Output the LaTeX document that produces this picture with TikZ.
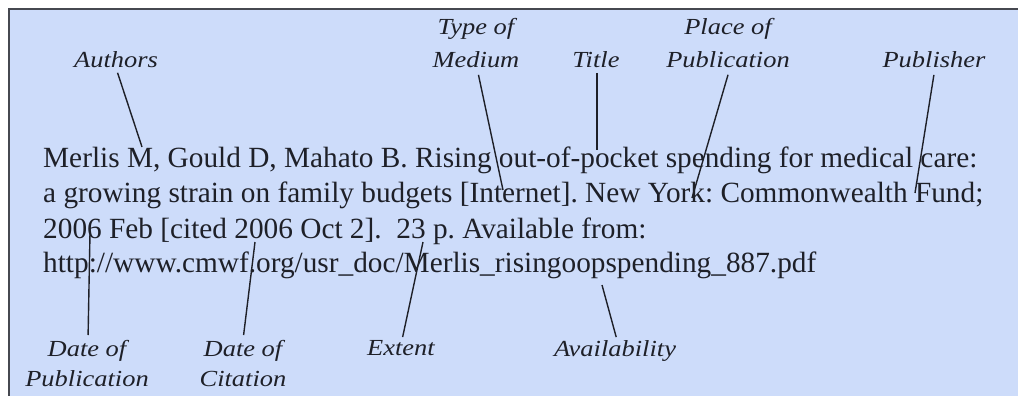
\documentclass[tikz,border=0pt]{standalone}
\usepackage{fontspec}
\usepackage{graphicx}
\setmainfont{Liberation Serif}
\newfontfamily\lblfont{Liberation Serif}[FakeStretch=1.15]
\definecolor{boxfill}{RGB}{205,220,250}
\definecolor{boxline}{RGB}{70,72,80}
\definecolor{ink}{RGB}{30,32,40}
\tikzset{
  lbl/.style={inner sep=0pt, align=center, text=ink,
    font=\lblfont\itshape\fontsize{23}{33}\selectfont},
  lblb/.style={lbl, font=\lblfont\itshape\fontsize{23}{30}\selectfont},
  body/.style={inner sep=0pt, anchor=base west, text=ink,
    font=\fontsize{29.3}{35}\selectfont\frenchspacing},
  conn/.style={draw=ink, line width=1.4pt}
}
\begin{document}
\begin{tikzpicture}[x=1pt,y=-1pt]
\useasboundingbox (0,0) rectangle (1018,396);
\fill[white] (0,0) rectangle (1018,396);
\filldraw[fill=boxfill, draw=boxline, line width=2.5pt] (9,9) rectangle (1040,420);
% main text
\node[body] (l1) at (43,167) {Merlis M, Gould D, Mahato B. Rising out-of-pocket spending for medical care:};
\node[body] (l2) at (43,202) {a growing strain on family budgets [Internet]. New York: Commonwealth Fund;};
\node[body] (l3) at (43,238) {2006 Feb [cited 2006 Oct 2].\ \ 23 p. Available from:};
\node[body] (l4) at (43,272) {http://www.cmwf.org/usr\_doc/Merlis\_risingoopspending\_887.pdf};
% top labels
\node[lbl, anchor=south] (authors) at (116,68) {Authors};
\node[lbl, anchor=south] (medium) at (476,68) {Type of\\Medium};
\node[lbl, anchor=south] (title) at (596,68) {Title};
\node[lbl, anchor=south] (place) at (728,68) {Place of\\Publication};
\node[lbl, anchor=south] (publisher) at (934,68) {Publisher};
% bottom labels
\node[lblb, anchor=north] (datepub) at (87,340) {Date of\\Publication};
\node[lblb, anchor=north] (datecit) at (243,340) {Date of\\Citation};
\node[lbl, anchor=north] (extent) at (401,340) {Extent};
\node[lbl, anchor=north] (avail) at (615,340) {Availability};
% points in the reference text
\coordinate (authorsE) at (142,147);
\coordinate (mediumE) at (503,190);
\coordinate (titleE) at (597,150);
\coordinate (placeE) at (692,198);
\coordinate (publisherE) at (915,193);
\coordinate (datepubS) at (90,233);
\coordinate (datecitS) at (255,242);
\coordinate (extentS) at (423,242);
\coordinate (availS) at (602,285);
% connectors
\draw[conn, shorten <=5pt] (authors.south) -- (authorsE);
\draw[conn, shorten <=7pt] ([xshift=1pt]medium.south) -- (mediumE);
\draw[conn, shorten <=5pt] ([xshift=1pt]title.south) -- (titleE);
\draw[conn, shorten <=7pt] ([xshift=2pt]place.south) -- (placeE);
\draw[conn, shorten <=7pt] ([xshift=1pt]publisher.south) -- (publisherE);
\draw[conn, shorten >=5pt] (datepubS) -- ([xshift=1pt]datepub.north);
\draw[conn, shorten >=5pt] (datecitS) -- (datecit.north);
\draw[conn, shorten >=3pt] (extentS) -- ([xshift=1pt]extent.north);
\draw[conn, shorten >=3pt] (availS) -- ([xshift=2pt]avail.north);
\end{tikzpicture}
\end{document}
